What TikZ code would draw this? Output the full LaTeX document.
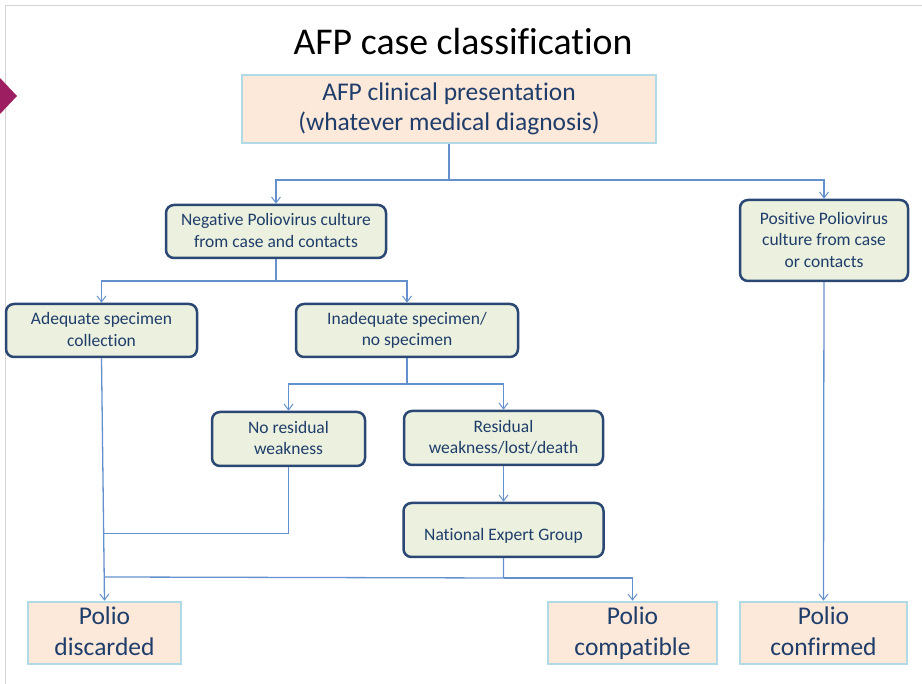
\documentclass[tikz,border=0pt]{standalone}
\usepackage{fontspec}
\setmainfont{Carlito}[Ligatures={NoCommon}]
\usetikzlibrary{arrows.meta,calc}
\definecolor{txtblue}{RGB}{31,61,107}
\definecolor{conncol}{RGB}{100,145,205}
\definecolor{greenfill}{RGB}{235,241,222}
\definecolor{greenborder}{RGB}{42,72,115}
\definecolor{peachfill}{RGB}{253,233,217}
\definecolor{peachborder}{RGB}{175,218,230}
\definecolor{chev}{RGB}{158,30,98}
\definecolor{framegray}{RGB}{212,212,212}
\newcommand\mytopstrut[1]{\rule{0pt}{\dimexpr0.7\baselineskip+#1\relax}}
\newcommand\mybotstrut[1]{\rule[\dimexpr-0.3\baselineskip+#1\relax]{0pt}{0pt}}
\tikzset{
  gbox/.style={draw=greenborder, line width=2.5pt, fill=greenfill, rounded corners=8pt,
    align=center, text=txtblue, inner xsep=0pt, inner ysep=-15pt, font=\fontsize{17.5}{21.5}\selectfont,
    execute at begin node=\mytopstrut{8.5pt}, execute at end node=\mybotstrut{4.5pt}},
  pbox/.style={draw=peachborder, line width=2.5pt, fill=peachfill,
    align=center, text=txtblue, inner xsep=0pt, inner ysep=-15pt, font=\fontsize{25.5}{30.5}\selectfont,
    execute at begin node=\mytopstrut{9pt}, execute at end node=\mybotstrut{5pt}},
  conn/.style={draw=conncol, line width=1.3pt},
  arr/.style={conn, -{Straight Barb[length=6pt,width=9pt,line width=1pt]}}
}
\begin{document}
\begin{tikzpicture}[x=1pt,y=-1pt]
\useasboundingbox (0,0) rectangle (922,684);
% frame
\draw[framegray, line width=1pt] (5,6) -- (922,6);
\draw[framegray, line width=1pt] (5,6) -- (5,684);
\fill[chev] (0,78) -- (17,96) -- (0,114) -- cycle;
% title
\node[font=\fontsize{37.8}{40}\selectfont, text=black] (title) at (463,42) {AFP case classification};
% nodes
\node[pbox, minimum width=414pt, minimum height=68pt] (top) at (449,109) {AFP clinical presentation\\(whatever medical diagnosis)};
\node[gbox, minimum width=220pt, minimum height=53pt] (neg) at (276,231.5) {Negative Poliovirus culture\\from case and contacts};
\node[gbox, minimum width=168pt, minimum height=81pt] (pos) at (824,240.5) {Positive Poliovirus\\culture from case\\or contacts};
\node[gbox, minimum width=191pt, minimum height=53pt] (ade) at (101.5,330.5) {Adequate specimen\\collection};
\node[gbox, minimum width=222pt, minimum height=53pt] (inad) at (407,330.5) {Inadequate specimen/\\no specimen};
\node[gbox, minimum width=153pt, minimum height=54pt] (nores) at (288.5,439) {No residual\\weakness};
\node[gbox, minimum width=199pt, minimum height=54pt] (res) at (503.5,438) {Residual\\weakness/lost/death};
\node[gbox, minimum width=200pt, minimum height=54pt] (neg2) at (503.5,530) {National Expert Group};
\node[pbox, minimum width=153pt, minimum height=62pt] (disc) at (104.5,633) {Polio\\discarded};
\node[pbox, minimum width=169pt, minimum height=62pt] (comp) at (632.5,633) {Polio\\compatible};
\node[pbox, minimum width=167pt, minimum height=62pt] (conf) at (823.5,633) {Polio\\confirmed};
% junctions
\coordinate (j1) at (449,180);
\coordinate (j2) at (276,281);
\coordinate (j3) at (407,384);
\coordinate (j4) at ($(ade.south)!0.722!(disc.north)$);
\coordinate (j5) at ($(ade.south)!0.902!(disc.north)$);
\coordinate (j6) at (503.5,578);
% connectors
\draw[conn] (top.south) -- (j1);
\draw[arr] (j1) -| (neg.north);
\draw[arr] (j1) -| (pos.north);
\draw[conn] (neg.south) -- (j2);
\draw[arr] (j2) -| (ade.north);
\draw[arr] (j2) -| (inad.north);
\draw[conn] (inad.south) -- (j3);
\draw[arr] (j3) -| (nores.north);
\draw[arr] (j3) -| (res.north);
\draw[arr] (res.south) -- (neg2.north);
\draw[arr] (ade.south) -- (disc.north);
\draw[conn] (nores.south) |- (j4);
\draw[conn] (neg2.south) -- (j6) -- (j5);
\draw[arr] (j6) -| (comp.north);
\draw[arr] (pos.south) -- (conf.north);
\end{tikzpicture}
\end{document}
